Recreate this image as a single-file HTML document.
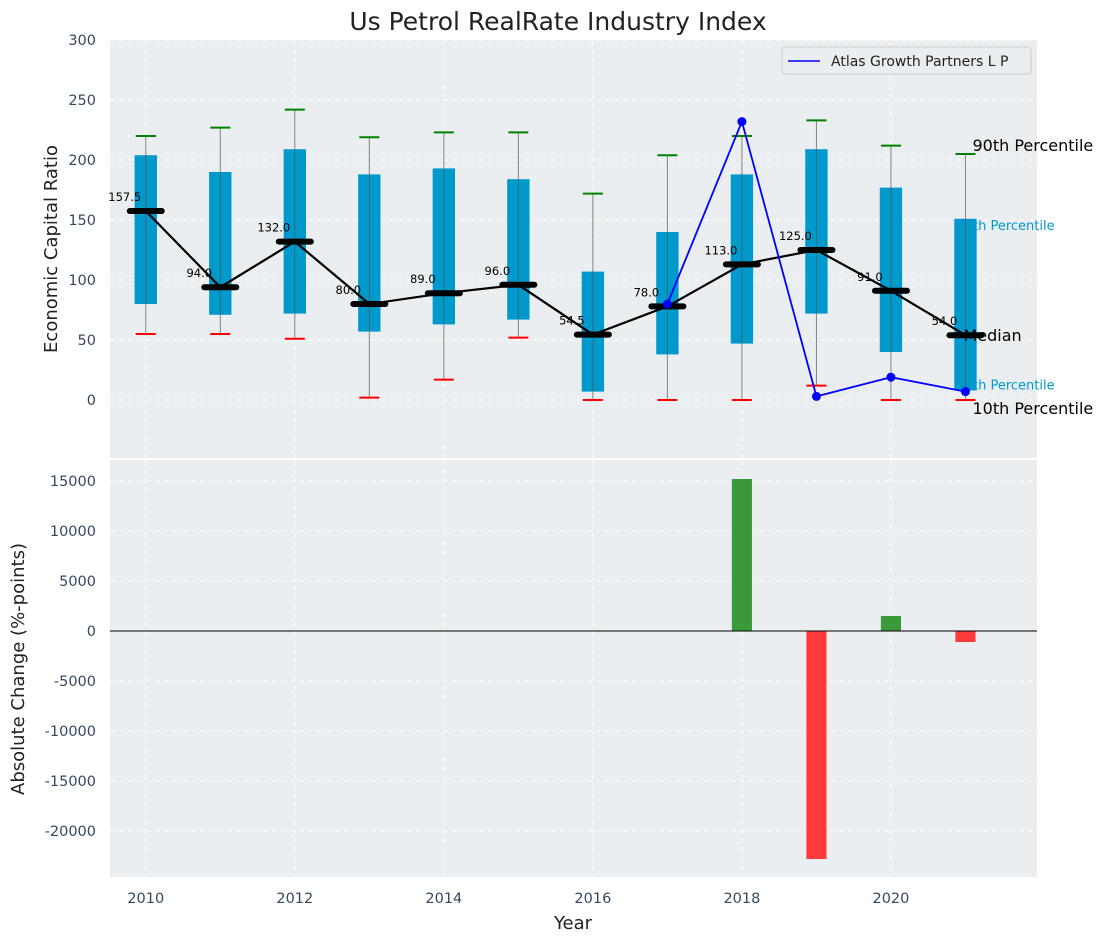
<!DOCTYPE html>
<html><head><meta charset="utf-8">
<style>
html,body{margin:0;padding:0;background:#fff;}
svg{display:block;font-family:"DejaVu Sans","Liberation Sans",sans-serif;}
</style></head>
<body>
<svg id="chart" width="1107" height="942" viewBox="0 0 1107 942" xmlns="http://www.w3.org/2000/svg"></svg>
<script>
const years=[2010,2011,2012,2013,2014,2015,2016,2017,2018,2019,2020,2021];
const p10=[55,55,51,2,17,52,0,0,0,12,0,0];
const p25=[80,71,72,57,63,67,7,38,47,72,40,8];
const medians=[157.5,94,132,80,89,96,54.5,78,113,125,91,54];
const p75=[204,190,209,188,193,184,107,140,188,209,177,151];
const p90=[220,227,242,219,223,223,172,204,220,233,212,205];
const companyYears=[2017,2018,2019,2020,2021];
const companyValues=[80,232,3,19,7];
const changeYears=[2018,2019,2020,2021];
const changeValues=[15200,-22800,1500,-1100];
const yTicksTop=[0,50,100,150,200,250,300];
const yTicksBot=[-20000,-15000,-10000,-5000,0,5000,10000,15000];
const xTicks=[2010,2012,2014,2016,2018,2020];

const svg=document.getElementById('chart');
const NS='http://www.w3.org/2000/svg';
function el(tag,attrs,parent,text){const e=document.createElementNS(NS,tag);for(const k in attrs)e.setAttribute(k,attrs[k]);if(text!==undefined)e.textContent=text;(parent||svg).appendChild(e);return e;}
const L=110,R=1037,T1=40,B1=458,T2=460,B2=877;
const x=v=>L+(v-2009.52)/(2021.96-2009.52)*(R-L);
const y1=v=>400-v*1.2;
const y2=v=>631-v*0.01;

let t=el('text',{x:558,y:30,'text-anchor':'middle','font-size':25,fill:'#222'},svg,'Us Petrol RealRate Industry Index');


let bg=el('rect',{x:L,y:T1,width:R-L,height:B1-T1,fill:'#eaeef0'});

bg=el('rect',{x:L,y:T2,width:R-L,height:B2-T2,fill:'#eaeef0'});


const grid=el('g',{stroke:'#fff','stroke-dasharray':'5,4','stroke-width':1,opacity:0.9});

xTicks.forEach(v=>{el('line',{x1:x(v),x2:x(v),y1:T1,y2:B1},grid);el('line',{x1:x(v),x2:x(v),y1:T2,y2:B2},grid);});
yTicksTop.forEach(v=>el('line',{x1:L,x2:R,y1:y1(v),y2:y1(v)},grid));
yTicksBot.forEach(v=>el('line',{x1:L,x2:R,y1:y2(v),y2:y2(v)},grid));

const tl=el('g',{'font-size':14.5,fill:'#34495e'});

yTicksTop.forEach(v=>el('text',{x:96,y:y1(v)+5,'text-anchor':'end'},tl,String(v)));
yTicksBot.forEach(v=>el('text',{x:96,y:y2(v)+5,'text-anchor':'end'},tl,String(v)));
xTicks.forEach(v=>el('text',{x:x(v),y:903,'text-anchor':'middle'},tl,String(v)));

t=el('text',{x:57,y:249,'text-anchor':'middle','font-size':18,fill:'#222',transform:'rotate(-90 57 249)'},svg,'Economic Capital Ratio');

t=el('text',{x:24,y:669,'text-anchor':'middle','font-size':18,fill:'#222',transform:'rotate(-90 24 669)'},svg,'Absolute Change (%-points)');

t=el('text',{x:573,y:929,'text-anchor':'middle','font-size':18,fill:'#222'},svg,'Year');


const last=years.length-1, lx=x(years[last]);
t=el('text',{x:lx-9,y:y1(p75[last])+11,'font-size':13,fill:'#0099cc'},svg,'75th Percentile');

t=el('text',{x:lx-9,y:y1(p25[last])-1,'font-size':13,fill:'#0099cc'},svg,'25th Percentile');


const hw=0.15*(x(1)-x(0));
years.forEach((yr,i)=>{
  const g=el('g',{});
  
  const cx=x(yr);
  el('rect',{x:cx-hw,y:y1(p75[i]),width:2*hw,height:y1(p25[i])-y1(p75[i]),fill:'#0099cc'},g);
  el('line',{x1:cx,x2:cx,y1:y1(p90[i]),y2:y1(p10[i]),stroke:'#555','stroke-width':1,opacity:0.7},g);
  el('line',{x1:cx-10,x2:cx+10,y1:y1(p90[i]),y2:y1(p90[i]),stroke:'green','stroke-width':2},g);
  el('line',{x1:cx-10,x2:cx+10,y1:y1(p10[i]),y2:y1(p10[i]),stroke:'red','stroke-width':2},g);
});

let ml=el('polyline',{points:years.map((yr,i)=>x(yr)+','+y1(medians[i])).join(' '),fill:'none',stroke:'#000','stroke-width':2.2});

years.forEach((yr,i)=>{
  const m=el('line',{x1:x(yr)-16,x2:x(yr)+16,y1:y1(medians[i]),y2:y1(medians[i]),stroke:'#000','stroke-width':6,'stroke-linecap':'round'});
  
  const lb=el('text',{x:x(yr)-21,y:y1(medians[i])-10,'text-anchor':'middle','font-size':11.5,fill:'#000'},svg,medians[i].toFixed(1));
  
});

let cl=el('polyline',{points:companyYears.map((yr,i)=>x(yr)+','+y1(companyValues[i])).join(' '),fill:'none',stroke:'#0000ff','stroke-width':1.8});

companyYears.forEach((yr,i)=>{
  const c=el('circle',{cx:x(yr),cy:y1(companyValues[i]),r:4.5,fill:'#0000ff'});
  
});

t=el('text',{x:lx+7,y:y1(p90[last])-3,'font-size':16,fill:'#000'},svg,'90th Percentile');

t=el('text',{x:lx-2,y:y1(medians[last])+6,'font-size':16,fill:'#000'},svg,'Median');

t=el('text',{x:lx+7,y:y1(p10[last])+14,'font-size':16,fill:'#000'},svg,'10th Percentile');


const lg=el('g',{});

el('rect',{x:782,y:47,width:249,height:27,rx:3,fill:'#eaeef0',stroke:'#ccc'},lg);
el('line',{x1:788,x2:820,y1:61,y2:61,stroke:'#0000ff','stroke-width':1.6},lg);
el('text',{x:831,y:66,'font-size':14,fill:'#222'},lg,'Atlas Growth Partners L P');

const bw=0.27*(x(1)-x(0));
changeYears.forEach((yr,i)=>{
  const v=changeValues[i];
  const b=el('rect',{x:x(yr)-bw/2,y:Math.min(y2(v),y2(0)),width:bw,height:Math.abs(y2(v)-y2(0)),fill:v>=0?'#3a9a3a':'#ff3b3b'});
  
});
let zl=el('line',{x1:L,x2:R,y1:y2(0),y2:y2(0),stroke:'#000','stroke-width':1});

</script>
</body></html>
